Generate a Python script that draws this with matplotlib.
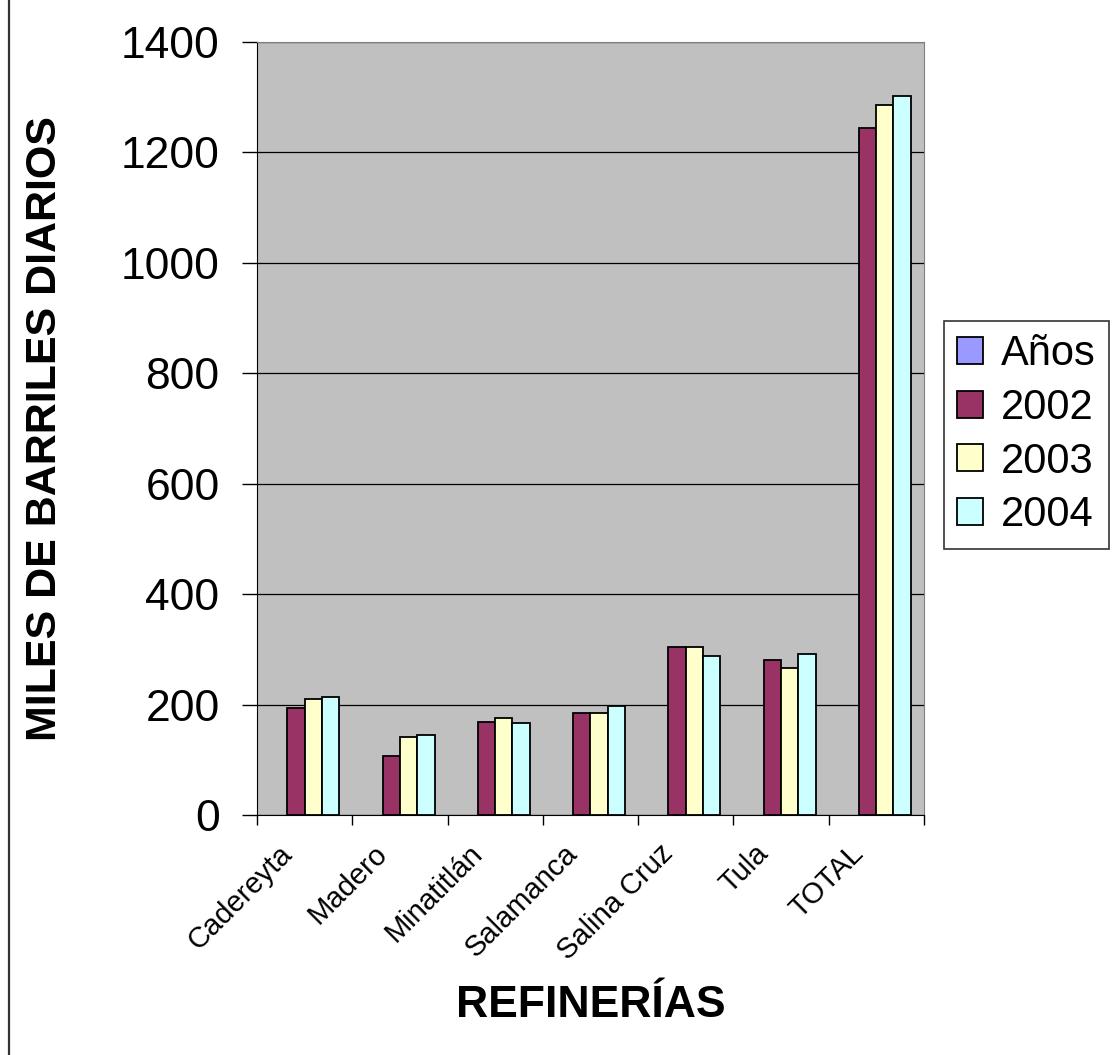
import numpy as np
import matplotlib
matplotlib.use("Agg")
import matplotlib.pyplot as plt
from matplotlib.lines import Line2D
from matplotlib.transforms import ScaledTranslation

plt.rcParams['font.family'] = ['Liberation Sans', 'DejaVu Sans']

# data
refinerias = ["Cadereyta", "Madero", "Minatitlán", "Salamanca", "Salina Cruz", "Tula", "TOTAL"]
anos = [np.nan] * 7          # empty series that only shows in the legend
y2002 = [194, 107, 169, 185, 304, 280, 1244]
y2003 = [210, 141, 176, 185, 304, 266, 1285]
y2004 = [213, 144, 166, 197, 288, 292, 1301]

series = [("Años", anos, "#9999FF"),
          ("2002", y2002, "#993366"),
          ("2003", y2003, "#FFFFCC"),
          ("2004", y2004, "#CCFFFF")]

fig = plt.figure(figsize=(11.15, 10.55), dpi=100)
ax = fig.add_axes([0.2305, 0.2275, 0.598, 0.733])
ax.set_facecolor("#C0C0C0")

x = np.arange(len(refinerias))
w = 1 / 5.5
for k, (name, vals, col) in enumerate(series):
    ax.bar(x + (k - 1.5) * w, vals, width=w, color=col, edgecolor="black",
           linewidth=1.3, label=name, zorder=3)

ax.set_xlim(-0.5, len(refinerias) - 0.5)
ax.set_ylim(0, 1400)
ax.set_yticks(np.arange(0, 1401, 200))
ax.yaxis.grid(True, color="black", linewidth=0.9, zorder=1)
ax.tick_params(axis="y", labelsize=32, length=11, width=1, direction="out", pad=16)

# ticks on category boundaries, labels on centres
ax.set_xticks(np.arange(-0.5, len(refinerias), 1))
ax.set_xticklabels([])
ax.tick_params(axis="x", which="major", length=7, width=1, direction="out")
ax.set_xticks(x, minor=True)
ax.set_xticklabels(refinerias, minor=True, rotation=45, ha="right",
                   rotation_mode="anchor", fontsize=21)
ax.tick_params(axis="x", which="minor", length=0, pad=14)
shift = ScaledTranslation(-27 / 100, -5 / 100, fig.dpi_scale_trans)
for lab in ax.get_xticklabels(minor=True):
    lab.set_transform(lab.get_transform() + shift)

ax.spines["left"].set_color("black")
ax.spines["bottom"].set_color("black")
ax.spines["top"].set_color("#808080")
ax.spines["right"].set_color("#808080")

ax.set_ylabel("MILES DE BARRILES DIARIOS", fontsize=31, fontweight="bold")
ax.yaxis.set_label_coords(-0.288, 0.5)
fig.text(0.530, 0.036, "REFINERÍAS", fontsize=32, fontweight="bold",
         ha="center", va="baseline")

leg = fig.legend(loc="center left", bbox_to_anchor=(0.8466, 0.588), fontsize=30,
                 frameon=True, fancybox=False, edgecolor="black", borderaxespad=0,
                 handlelength=0.62, handleheight=0.62, handletextpad=0.42,
                 labelspacing=0.33, borderpad=0.32)
leg.get_frame().set_linewidth(1.2)

# chart-area border on the left edge
fig.add_artist(Line2D([0.0083, 0.0083], [0, 1], color="#333333", linewidth=1.6))

fig.savefig("out.png", dpi=100)
